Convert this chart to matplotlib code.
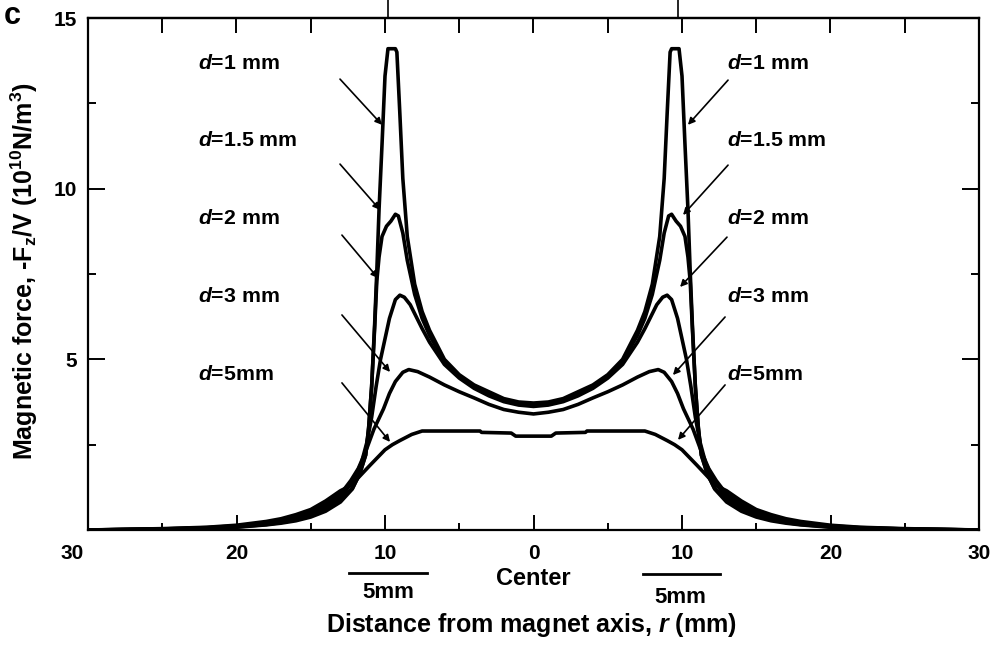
import matplotlib
matplotlib.use('Agg')
import matplotlib.pyplot as plt
import matplotlib.transforms as mtransforms
import numpy as np

plt.rcParams['font.family'] = ['Liberation Sans', 'DejaVu Sans']
plt.rcParams['font.weight'] = 'bold'
plt.rcParams['mathtext.fontset'] = 'custom'
plt.rcParams['mathtext.rm'] = 'Liberation Sans:bold'
plt.rcParams['mathtext.it'] = 'Liberation Sans:bold:italic'
plt.rcParams['mathtext.bf'] = 'Liberation Sans:bold'
plt.rcParams['mathtext.default'] = 'rm'

# ---------------- data (right half, r >= 0; profile is symmetric) ----------------
r_d1 = [0, 1, 2, 3, 4, 5, 6, 7, 7.5, 8, 8.5, 8.8, 9.0, 9.2, 9.3, 9.8, 10.0, 10.2, 10.4, 10.55,
        10.7, 10.9, 11.1, 11.3, 11.7, 12.2, 13, 14, 15, 16, 17, 18, 20, 22, 25, 30]
f_d1 = [3.72, 3.75, 3.85, 4.05, 4.25, 4.55, 5.0, 5.85, 6.4, 7.2, 8.6, 10.3, 12.2, 14.0, 14.1, 14.1,
        13.3, 11.3, 9.4, 7.6, 6.0, 4.2, 3.0, 2.2, 1.65, 1.2, 0.82, 0.55, 0.38, 0.27, 0.2, 0.15,
        0.08, 0.05, 0.02, 0.0]

r_d15 = [0, 1, 2, 3, 4, 5, 6, 7, 7.5, 8, 8.5, 8.8, 9.1, 9.3, 9.6, 9.9, 10.2, 10.4, 10.55, 10.7,
         10.9, 11.1, 11.3, 11.7, 12.2, 13, 14, 15, 16, 17, 18, 20, 22, 25, 30]
f_d15 = [3.68, 3.72, 3.82, 4.0, 4.22, 4.52, 4.95, 5.7, 6.2, 6.9, 7.9, 8.7, 9.2, 9.25, 9.05, 8.9,
         8.6, 8.0, 7.3, 5.9, 4.2, 3.0, 2.2, 1.65, 1.22, 0.88, 0.6, 0.42, 0.3, 0.22, 0.16, 0.09,
         0.05, 0.02, 0.0]

r_d2 = [0, 1, 2, 3, 4, 5, 6, 7, 7.5, 7.9, 8.3, 8.7, 9.0, 9.3, 9.7, 10.0, 10.3, 10.6, 10.9, 11.2,
        11.6, 12.2, 13, 14, 15, 16, 17, 18, 20, 22, 25, 30]
f_d2 = [3.62, 3.66, 3.76, 3.93, 4.15, 4.45, 4.85, 5.5, 5.9, 6.25, 6.6, 6.82, 6.88, 6.75, 6.2, 5.6,
        5.0, 4.2, 3.3, 2.6, 1.95, 1.4, 0.95, 0.66, 0.46, 0.33, 0.24, 0.18, 0.1, 0.06, 0.03, 0.0]

r_d3 = [0, 1, 2, 3, 4, 5, 6, 7, 7.8, 8.4, 8.8, 9.3, 9.7, 10.1, 10.75, 11.3, 11.8, 12.3, 13, 14,
        15, 16, 17, 18, 20, 22, 25, 30]
f_d3 = [3.4, 3.45, 3.53, 3.68, 3.87, 4.05, 4.25, 4.48, 4.64, 4.7, 4.62, 4.35, 4.0, 3.55, 2.95,
        2.3, 1.8, 1.45, 1.05, 0.75, 0.53, 0.38, 0.28, 0.21, 0.12, 0.07, 0.03, 0.0]

r_d5 = [0, 1.2, 1.5, 3.5, 3.6, 7.5, 8.2, 9.0, 9.5, 10, 11, 12.3, 13, 14, 15, 16, 17, 18, 20, 22, 25, 30]
f_d5 = [2.75, 2.75, 2.84, 2.86, 2.9, 2.9, 2.8, 2.62, 2.5, 2.35, 1.9, 1.3, 1.15, 0.85, 0.6, 0.45,
        0.33, 0.25, 0.14, 0.08, 0.04, 0.0]

curve_labels = ['$\\mathit{d}$=1 mm', '$\\mathit{d}$=1.5 mm', '$\\mathit{d}$=2 mm',
                '$\\mathit{d}$=3 mm', '$\\mathit{d}$=5mm']

x_ticks = [-30, -20, -10, 0, 10, 20, 30]
x_ticklabels = ['30', '20', '10', '0', '10', '20', '30']
x_minor = [-25, -15, -5, 5, 15, 25]
x_top_ticks = [-25, -20, -15, -10, -5, 0, 5, 10, 15, 20, 25]
y_ticks = [0, 5, 10, 15]
y_ticklabels = ['', '5', '10', '15']
y_minor = [2.5, 7.5, 12.5]
magnet_edges = [-9.8, 9.73]

# annotation geometry: label y, left/right arrow (tail -> head)
label_y = [13.68, 11.4, 9.14, 6.83, 4.57]
arrows_left = [((-13.03, 13.21), (-10.20, 11.87)),
               ((-13.03, 10.72), (-10.34, 9.38)),
               ((-12.90, 8.64), (-10.47, 7.38)),
               ((-12.90, 6.30), (-9.66, 4.63)),
               ((-12.90, 4.31), (-9.66, 2.58))]
arrows_right = [((13.10, 13.18), (10.40, 11.87)),
                ((13.10, 10.69), (10.07, 9.23)),
                ((13.03, 8.58), (9.87, 7.12)),
                ((12.90, 6.24), (9.39, 4.54)),
                ((12.90, 4.25), (9.73, 2.64))]


def mirror(r, f):
    r = np.asarray(r, float)
    f = np.asarray(f, float)
    return np.concatenate([-r[:0:-1], r]), np.concatenate([f[:0:-1], f])


fig = plt.figure(figsize=(9.98, 6.54), dpi=100)
ax = fig.add_axes([88 / 998, 1 - 530 / 654, 891 / 998, 512 / 654])

curves = [(r_d5, f_d5), (r_d3, f_d3), (r_d2, f_d2), (r_d15, f_d15), (r_d1, f_d1)]
for r, f in curves:
    x, y = mirror(r, f)
    ax.plot(x, y, color='black', lw=2.6, solid_joinstyle='round', zorder=3)

ax.set_xlim(-30, 30)
ax.set_ylim(0, 15)

ax.set_xticks(x_ticks)
ax.set_xticklabels(x_ticklabels)
ax.set_xticks(x_minor, minor=True)
ax.set_yticks(y_ticks)
ax.set_yticklabels(y_ticklabels)
ax.set_yticks(y_minor, minor=True)

ax.tick_params(axis='both', which='both', direction='in', width=1.4, labelsize=15)
ax.tick_params(axis='x', which='major', length=11, pad=10)
ax.tick_params(axis='x', which='minor', length=5)
ax.tick_params(axis='y', which='major', length=12, pad=8, right=True)
ax.tick_params(axis='y', which='minor', length=6, right=True)
for lab in ax.get_xticklabels() + ax.get_yticklabels():
    lab.set_fontweight('bold')

# shift the leftmost "30" label slightly left, as in the reference
lbl0 = ax.get_xticklabels()[0]
lbl0.set_transform(lbl0.get_transform() + mtransforms.ScaledTranslation(-16 / 100, 0, fig.dpi_scale_trans))

sec = ax.secondary_xaxis('top')
sec.set_xticks(x_top_ticks)
sec.tick_params(direction='in', length=11, width=1.4, labeltop=False)
sec.spines['top'].set_linewidth(1.6)

for s in ax.spines.values():
    s.set_linewidth(1.6)

# magnet edge lines above the frame
for xe in magnet_edges:
    ax.plot([xe, xe], [15, 15.7], color='black', lw=1.2, clip_on=False)

# curve labels and arrows
for lab, yl, (t1, h1), (t2, h2) in zip(curve_labels, label_y, arrows_left, arrows_right):
    ax.text(-22.6, yl, lab, fontsize=15.3, fontweight='bold', ha='left', va='center')
    ax.text(13.03, yl, lab, fontsize=15.3, fontweight='bold', ha='left', va='center')
    for t, h in ((t1, h1), (t2, h2)):
        ax.annotate('', xy=h, xytext=t,
                    arrowprops=dict(arrowstyle='-|>', color='black', lw=1.2,
                                    mutation_scale=10, shrinkA=0, shrinkB=0))

# below-axis annotations
trans = mtransforms.blended_transform_factory(ax.transData, ax.transAxes)
ax.text(0, -0.094, 'Center', transform=trans, ha='center', va='center', fontsize=17,
        fontweight='bold', clip_on=False)
ax.plot([-12.45, -7.15], [-0.084, -0.084], transform=trans, color='black', lw=2.0, clip_on=False)
ax.plot([7.35, 12.55], [-0.086, -0.086], transform=trans, color='black', lw=2.0, clip_on=False)
ax.text(-9.8, -0.123, '5mm', transform=trans, ha='center', va='center', fontsize=16,
        fontweight='bold', clip_on=False)
ax.text(9.9, -0.131, '5mm', transform=trans, ha='center', va='center', fontsize=16,
        fontweight='bold', clip_on=False)

ax.text(0.497, -0.186, 'Distance from magnet axis, $\\mathit{r}$ (mm)', transform=ax.transAxes,
        ha='center', va='center', fontsize=18, fontweight='bold', clip_on=False)
ax.text(-0.072, 0.505, 'Magnetic force, -F$_{\\rm z}$/V (10$^{10}$N/m$^{3}$)', transform=ax.transAxes,
        rotation=90, ha='center', va='center', fontsize=18, fontweight='bold', clip_on=False)

fig.text(0.004, 0.999, 'c', fontsize=22, fontweight='bold', ha='left', va='top')

fig.savefig('out.png', dpi=100)
